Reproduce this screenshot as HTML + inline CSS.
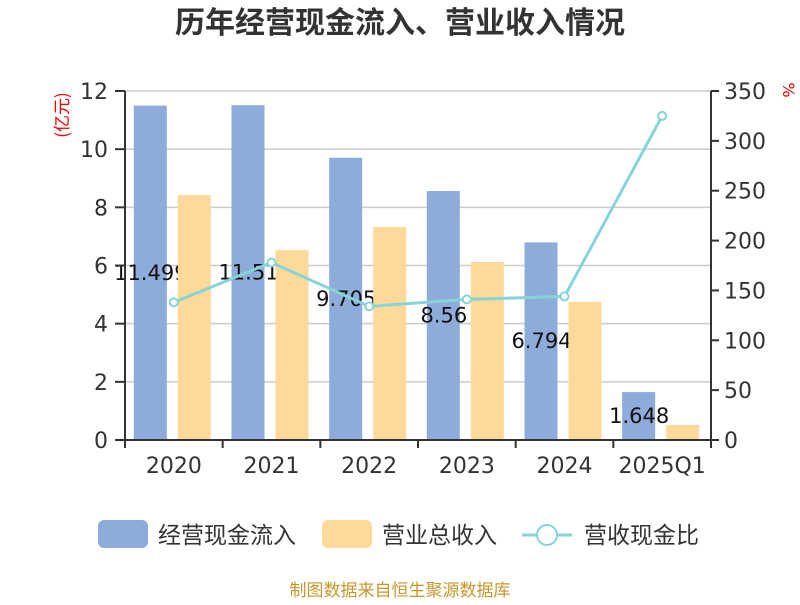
<!DOCTYPE html>
<html><head><meta charset="utf-8"><style>
body{margin:0;background:#fff;}
svg text{font-family:"DejaVu Sans","Noto Sans CJK SC",sans-serif;}
svg text.cjk{font-family:"Noto Sans CJK SC",sans-serif;}
</style></head><body>
<svg id="c" width="800" height="600" xmlns="http://www.w3.org/2000/svg">
<text class="cjk" x="400" y="33" text-anchor="middle" font-size="30" font-weight="bold" fill="#333">历年经营现金流入、营业收入情况</text>
<text class="cjk" transform="translate(68,115) rotate(-90)" text-anchor="middle" font-size="17" fill="#e00">(亿元)</text>
<text transform="translate(783,90) rotate(90)" text-anchor="middle" font-size="16" fill="#e00">%</text>
<g id="grid"></g><g id="bars"></g><g id="labels"></g><g id="bars2"></g><g id="axes"></g><g id="line"></g>
<g>
<rect x="98" y="520" width="50" height="28" rx="6" fill="#8eacda"/>
<text class="cjk" x="158" y="543" font-size="23" fill="#333">经营现金流入</text>
<rect x="322" y="520" width="50" height="28" rx="6" fill="#ffd99a"/>
<text class="cjk" x="382" y="543" font-size="23" fill="#333">营业总收入</text>
<line x1="522" y1="535" x2="572" y2="535" stroke="#86d4d8" stroke-width="3"/>
<circle cx="547" cy="535" r="10" fill="#fff" stroke="#86d4d8" stroke-width="2"/>
<text class="cjk" x="584" y="543" font-size="23" fill="#333">营收现金比</text>
</g>
<text class="cjk" x="400" y="596" text-anchor="middle" font-size="17" fill="#c8962e">制图数据来自恒生聚源数据库</text>
</svg>
<script>
const categories=["2020","2021","2022","2023","2024","2025Q1"];
const cashInflow=[11.499,11.51,9.705,8.56,6.794,1.648];
const revenue=[8.42,6.53,7.32,6.12,4.75,0.52];
const ratio=[138,178,134,141,144,325];
const leftTicks=[0,2,4,6,8,10,12];
const rightTicks=[0,50,100,150,200,250,300,350];
const NS="http://www.w3.org/2000/svg";
const X0=125,X1=711,Y0=440,Y1=91;
const bw=(X1-X0)/categories.length;
const yL=v=>Y0-(v/12)*(Y0-Y1);
const yR=v=>Y0-(v/350)*(Y0-Y1);
const xc=i=>X0+bw*(i+0.5);
function mk(tag,attrs,parent,txt){const e=document.createElementNS(NS,tag);for(const k in attrs)e.setAttribute(k,attrs[k]);if(txt!==undefined)e.textContent=txt;document.getElementById(parent).appendChild(e);return e;}
leftTicks.forEach(t=>{
 const g=mk('line',{x1:X0,x2:X1,y1:yL(t),y2:yL(t),stroke:'#ccc','stroke-width':1.5},'grid');
 
 
 const tk=mk('line',{x1:X0-10,x2:X0,y1:yL(t),y2:yL(t),stroke:'#333','stroke-width':2},'axes');
 
 
 const l=mk('text',{x:X0-17,y:yL(t)+8,'text-anchor':'end','font-size':22,fill:'#333'},'axes',String(t));
 
 
});
rightTicks.forEach(t=>{
 const tk=mk('line',{x1:X1,x2:X1+8,y1:yR(t),y2:yR(t),stroke:'#333','stroke-width':2},'axes');
 
 
 const l=mk('text',{x:X1+13,y:yR(t)+8,'font-size':22,fill:'#333'},'axes',String(t));
 
 
});
let a=mk('line',{x1:X0,x2:X0,y1:Y1,y2:Y0,stroke:'#333','stroke-width':2},'axes');


a=mk('line',{x1:X1,x2:X1,y1:Y1,y2:Y0,stroke:'#333','stroke-width':2},'axes');


a=mk('line',{x1:X0,x2:X1,y1:Y0,y2:Y0,stroke:'#333','stroke-width':2},'axes');


categories.forEach((c,i)=>{
 const tk=mk('line',{x1:X0+bw*i,x2:X0+bw*i,y1:Y0,y2:Y0+8,stroke:'#333','stroke-width':2},'axes');
 
 
 if(i==categories.length-1){const t2=mk('line',{x1:X1,x2:X1,y1:Y0,y2:Y0+8,stroke:'#333','stroke-width':2},'axes');}
 const l=mk('text',{x:xc(i),y:Y0+33,'text-anchor':'middle','font-size':22,fill:'#333'},'axes',c);
 
 
 const b=mk('rect',{x:xc(i)-40,y:yL(cashInflow[i]),width:33,height:Y0-yL(cashInflow[i]),fill:'#8eacda'},'bars');
 
 
 const t=mk('text',{x:xc(i)-23,y:(yL(cashInflow[i])+Y0)/2+7,'text-anchor':'middle','font-size':21,fill:'#111'},'labels',String(cashInflow[i]));
 
 
 const r=mk('rect',{x:xc(i)+4,y:yL(revenue[i]),width:33,height:Y0-yL(revenue[i]),fill:'#ffd99a'},'bars2');
 
 
});
const pts=ratio.map((v,i)=>xc(i)+','+yR(v)).join(' ');
const pl=mk('polyline',{points:pts,fill:'none',stroke:'#86d4d8','stroke-width':3},'line');


ratio.forEach((v,i)=>{
 const c=mk('circle',{cx:xc(i),cy:yR(v),r:4,fill:'#fff',stroke:'#86d4d8','stroke-width':2},'line');
 
 
});
</script>
</body></html>
